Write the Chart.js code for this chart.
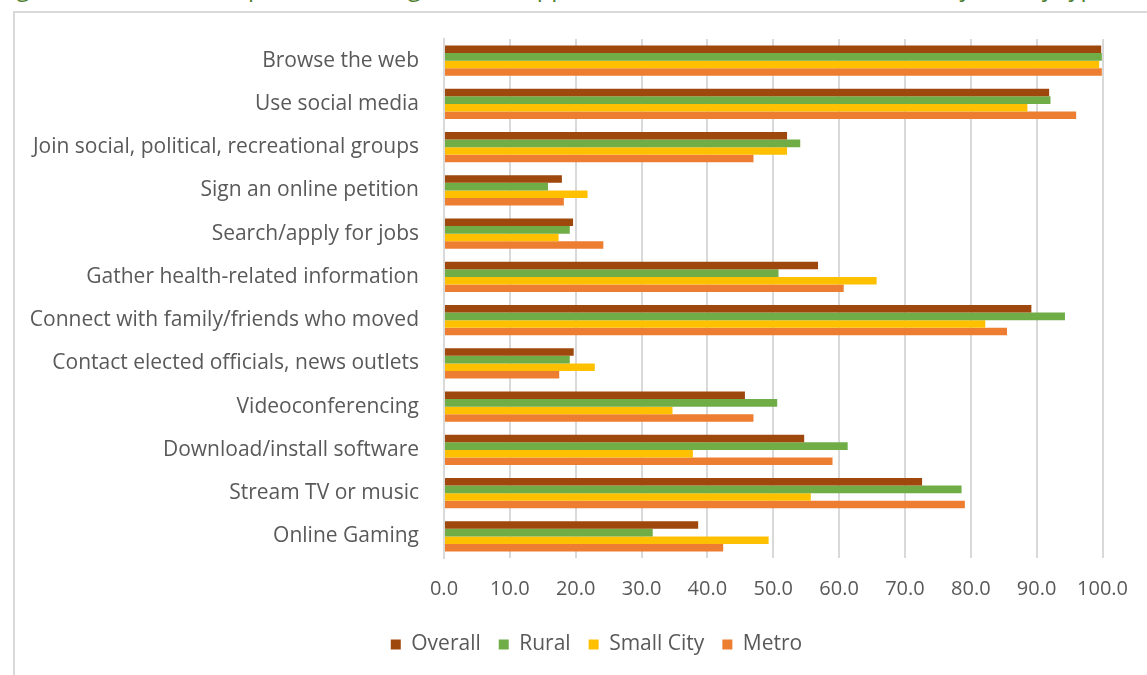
<!DOCTYPE html>
<html>
<head>
<meta charset="utf-8">
<script src="https://cdn.jsdelivr.net/npm/chart.js@4"></script>
<style>
  html, body { margin: 0; padding: 0; background: #fff; overflow: hidden; }
  body { width: 1147px; height: 675px; position: relative; }
  #title {
    position: absolute; left: -2px; top: -25px; white-space: nowrap;
    font-family: "Open Sans", sans-serif; font-size: 24px; line-height: 24px;
    color: #4f7f30;
  }
  #frame {
    position: absolute; left: 13px; top: 11px; width: 1200px; height: 700px;
    border-left: 2px solid #d9d9d9; border-top: 2px solid #d9d9d9;
  }
  #wrap { position: absolute; left: 0; top: 0; width: 1147px; height: 675px; }
</style>
</head>
<body>
<div id="title">Figure 10: Share of respondents using Internet applications in the last three months, by county type</div>
<div id="frame"></div>
<div id="wrap"><canvas id="usageChart"></canvas></div>
<script>
const categories = [
    'Browse the web',
    'Use social media',
    'Join social, political, recreational groups',
    'Sign an online petition',
    'Search/apply for jobs',
    'Gather health-related information',
    'Connect with family/friends who moved',
    'Contact elected officials, news outlets',
    'Videoconferencing',
    'Download/install software',
    'Stream TV or music',
    'Online Gaming'
];
const seriesNames = ['Overall', 'Rural', 'Small City', 'Metro'];
const overall   = [99.8, 91.9, 52.1, 17.9, 19.6, 56.8, 89.2, 19.7, 45.7, 54.7, 72.6, 38.6];
const rural     = [99.9, 92.1, 54.1, 15.8, 19.1, 50.8, 94.3, 19.1, 50.6, 61.3, 78.6, 31.7];
const smallCity = [99.5, 88.6, 52.1, 21.8, 17.4, 65.7, 82.2, 22.9, 34.7, 37.8, 55.7, 49.3];
const metro     = [99.9, 96.0, 47.0, 18.2, 24.2, 60.7, 85.5, 17.5, 47.0, 59.0, 79.1, 42.4];
const xTicks = [0, 10, 20, 30, 40, 50, 60, 70, 80, 90, 100];

const colors = ['#9e480e', '#70ad47', '#ffc000', '#ed7d31'];
const textColor = '#595959';
const fontFamily = '"Open Sans", sans-serif';

// the legend in the original sits a bit right of the canvas centre
const legendShift = {
    id: 'legendShift',
    afterLayout(chart) {
        chart.legend.left += 32;
        chart.legend.right += 32;
    }
};

const ctx = document.getElementById('usageChart').getContext('2d');
const usageChart = new Chart(ctx, {
    type: 'bar',
    data: {
        labels: categories,
        datasets: [overall, rural, smallCity, metro].map((vals, i) => ({
            label: seriesNames[i],
            data: vals,
            backgroundColor: colors[i],
            borderWidth: 0,
            categoryPercentage: 0.7,
            barPercentage: 1.0
        }))
    },
    options: {
        indexAxis: 'y',
        responsive: true,
        maintainAspectRatio: false,
        animation: false,
        layout: {
            padding: { left: 14, top: 39, right: 32, bottom: 10 }
        },
        scales: {
            x: {
                min: 0,
                max: 100,
                afterBuildTicks: (scale) => {
                    scale.ticks = xTicks.map(v => ({ value: v }));
                },
                afterFit: (scale) => { scale.height = 58; },
                ticks: {
                    color: textColor,
                    font: { family: fontFamily, size: 20 },
                    padding: 19,
                    maxRotation: 0,
                    callback: (v) => Number(v).toFixed(1)
                },
                grid: { color: '#d9d9d9', lineWidth: 2, drawTicks: false },
                border: { display: false }
            },
            y: {
                afterFit: (scale) => { scale.width = 430; },
                ticks: {
                    color: textColor,
                    font: { family: fontFamily, size: 21 },
                    padding: 25
                },
                grid: { display: false, drawTicks: false },
                border: { display: true, color: '#d9d9d9', width: 2 }
            }
        },
        plugins: {
            tooltip: { enabled: false },
            legend: {
                position: 'bottom',
                labels: {
                    color: textColor,
                    font: { family: fontFamily, size: 21 },
                    boxWidth: 10,
                    boxHeight: 10,
                    padding: 18
                }
            }
        }
    },
    plugins: [legendShift]
});
</script>
</body>
</html>
